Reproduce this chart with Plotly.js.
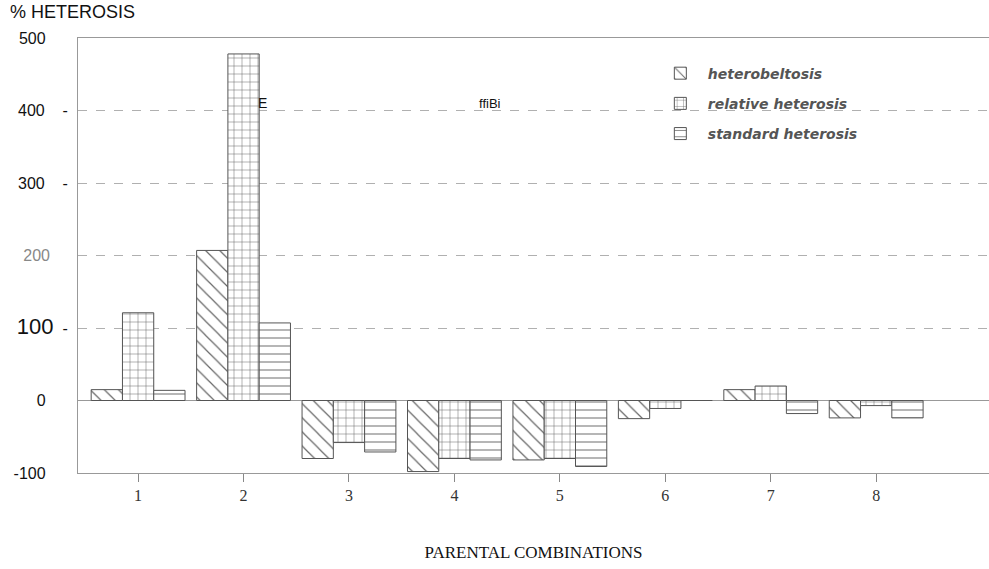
<!DOCTYPE html>
<html><head><meta charset="utf-8">
<script src="https://cdn.plot.ly/plotly-3.0.1.min.js"></script>
<style>html,body{margin:0;padding:0;background:#fff}#chart{width:989px;height:569px}</style>
</head><body><div id="chart"></div>
<script>
const categories = ['1','2','3','4','5','6','7','8'];
const heterobeltosis = [15, 207, -80, -98, -82, -25, 15, -24];
const relativeHeterosis = [121, 478, -58, -80, -80, -11, 20, -7];
const standardHeterosis = [14, 107, -71, -82, -91, 0, -18, -24];
const seriesNames = ['heterobeltosis', 'relative heterosis', 'standard heterosis'];
const yTickVals = [-100, 0, 100, 200, 300, 400, 500];
const S = '\u00a0';
const yTickText = ['-100' + S.repeat(5), '0' + S.repeat(5),
  '<span style="font-size:22px">100</span>' + S.repeat(2) + '-',
  '<span style="color:#888">200</span>' + S.repeat(4),
  '300' + S.repeat(4) + '-', '400' + S.repeat(4) + '-', '500' + S.repeat(5)];

function bar(name, y, shape, size, g) {
  return {
    type: 'bar', name: name, x: categories, y: y, legendgroup: g,
    marker: {color: '#ffffff', line: {color: '#555', width: 1},
      pattern: {shape: shape, fgcolor: '#666', bgcolor: '#fff', size: size, solidity: 0.12}}
  };
}
const data = [
  bar(seriesNames[0], heterobeltosis, '\\', 10, 'a'),
  bar(seriesNames[1], relativeHeterosis, '+', 8, 'b'),
  bar(seriesNames[2], standardHeterosis, '-', 8, 'c')
];
const layout = {
  width: 989, height: 569,
  margin: {l: 78, r: 0, t: 38, b: 96},
  paper_bgcolor: '#fff', plot_bgcolor: '#fff',
  barmode: 'group', bargap: 0.11, bargroupgap: 0,
  showlegend: true,
  legend: {x: 0.631, y: 0.955, xanchor: 'left', yanchor: 'top', bgcolor: 'rgba(0,0,0,0)',
    font: {family: 'DejaVu Sans, sans-serif', size: 14, color: '#555', weight: 'bold', style: 'italic'},
    itemwidth: 45, tracegroupgap: 9},
  xaxis: {
    type: 'category',
    range: [-0.57, 8.07], showgrid: false, zeroline: false,
    showline: true, linecolor: '#999', linewidth: 1, mirror: true,
    ticks: 'outside', ticklen: 8, tickcolor: '#888',
    tickfont: {family: 'Liberation Serif, Times New Roman, serif', size: 16, color: '#333'},
    title: {text: 'PARENTAL COMBINATIONS', standoff: 42,
      font: {family: 'Liberation Serif, Times New Roman, serif', size: 17, color: '#111'}}
  },
  yaxis: {
    range: [-100, 500], tickvals: yTickVals, ticktext: yTickText,
    showgrid: true, gridcolor: '#b0b0b0', griddash: 'dash', gridwidth: 1,
    zeroline: true, zerolinecolor: '#999', zerolinewidth: 1.5,
    showline: true, linecolor: '#999', linewidth: 1, mirror: true,
    ticks: '', ticklabelstandoff: 6,
    tickfont: {family: 'Liberation Sans, Arial, sans-serif', size: 16, color: '#111'}
  },
  annotations: [
    {text: '% HETEROSIS', xref: 'paper', yref: 'paper', x: -0.077, y: 1.0, yshift: 26,
      xanchor: 'left', yanchor: 'middle', showarrow: false,
      font: {family: 'Liberation Sans, Arial, sans-serif', size: 18, color: '#111'}},
    {text: 'E', xref: 'x', yref: 'y', x: 1.12, y: 410, xanchor: 'left', showarrow: false,
      font: {family: 'Liberation Sans, Arial, sans-serif', size: 14, color: '#111'}},
    {text: 'ffiBi', xref: 'x', yref: 'y', x: 3.34, y: 410, xanchor: 'center', showarrow: false,
      font: {family: 'Liberation Sans, Arial, sans-serif', size: 13, color: '#111'}}
  ]
};
Plotly.newPlot('chart', data, layout, {displayModeBar: false, staticPlot: true});
</script></body></html>
